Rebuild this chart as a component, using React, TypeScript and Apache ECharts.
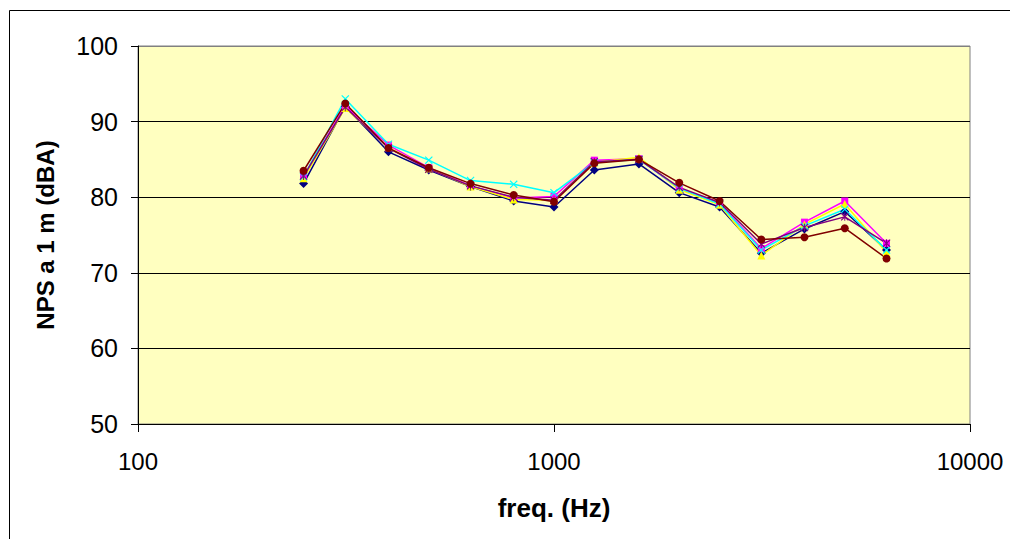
import React, { useEffect, useRef } from "react";
import * as echarts from "echarts";

const freqs = [250, 315, 400, 500, 630, 800, 1000, 1250, 1600, 2000, 2500, 3150, 4000, 5000, 6300];

const serieBlue = [81.8, 92.0, 86.0, 83.6, 81.4, 79.5, 78.7, 83.6, 84.4, 80.6, 78.7, 72.6, 75.8, 78.1, 73.0];
const serieMagenta = [82.8, 92.1, 86.9, 83.9, 81.5, 79.9, 80.1, 84.9, 85.1, 81.1, 79.2, 73.2, 76.7, 79.5, 73.9];
const serieYellow = [82.5, 91.8, 86.6, 83.8, 81.4, 79.7, 79.6, 84.6, 85.3, 81.0, 79.0, 72.3, 76.4, 79.1, 72.7];
const serieCyan = [82.7, 93.0, 87.0, 84.9, 82.2, 81.7, 80.6, 84.6, 85.0, 81.2, 79.1, 73.0, 76.2, 78.4, 73.0];
const seriePurple = [82.8, 91.9, 86.5, 83.7, 81.5, 80.0, 79.6, 84.7, 85.0, 81.3, 79.3, 73.8, 76.0, 77.4, 73.9];
const serieBrown = [83.5, 92.4, 86.5, 83.9, 81.8, 80.3, 79.4, 84.5, 85.0, 81.9, 79.5, 74.4, 74.7, 75.9, 71.9];

const yTicks = [50, 60, 70, 80, 90, 100];

const xSymbol = "path://M0,1 L1,0 L5,4 L9,0 L10,1 L6,5 L10,9 L9,10 L5,6 L1,10 L0,9 L4,5 Z";
const starSymbol =
  "path://M0,1 L1,0 L5,4 L9,0 L10,1 L6,5 L10,9 L9,10 L5,6 L1,10 L0,9 L4,5 Z M4.4,0 L5.6,0 L5.6,10 L4.4,10 Z";

const seriesDefs = [
  { name: "S1", data: serieBlue, color: "#000080", symbol: "diamond", size: 9 },
  { name: "S2", data: serieMagenta, color: "#FF00FF", symbol: "rect", size: 7 },
  { name: "S3", data: serieYellow, color: "#FFFF00", symbol: "triangle", size: 8 },
  { name: "S4", data: serieCyan, color: "#00FFFF", symbol: xSymbol, size: 8 },
  { name: "S5", data: seriePurple, color: "#800080", symbol: starSymbol, size: 8 },
  { name: "S6", data: serieBrown, color: "#800000", symbol: "circle", size: 8 },
];

const FONT = 'Arial, "Liberation Sans", sans-serif';

export default function App() {
  const ref = useRef<HTMLDivElement>(null);
  useEffect(() => {
    if (!ref.current) return;
    const chart = echarts.init(ref.current, null, { renderer: "svg" });
    chart.setOption({
      animation: false,
      backgroundColor: "#ffffff",
      grid: {
        left: 138,
        top: 46,
        width: 832,
        height: 378,
        show: true,
        backgroundColor: "#FFFFC0",
        borderColor: "#808080",
        borderWidth: 1,
      },
      graphic: [
        {
          type: "rect",
          shape: { x: 9.5, y: 10.5, width: 1100, height: 600 },
          style: { fill: "none", stroke: "#000", lineWidth: 1 },
          silent: true,
        },
      ],
      xAxis: {
        type: "log",
        logBase: 10,
        min: 100,
        max: 10000,
        name: "freq. (Hz)",
        nameLocation: "middle",
        nameGap: 71,
        nameTextStyle: { fontFamily: FONT, fontSize: 26, fontWeight: "bold", color: "#000" },
        axisLine: { show: true, lineStyle: { color: "#000", width: 1 } },
        axisTick: { show: true, length: 8, inside: false, lineStyle: { color: "#000" } },
        axisLabel: {
          fontFamily: FONT,
          fontSize: 24,
          color: "#000",
          margin: 25,
          formatter: (v: number) => String(Math.round(v)),
        },
        splitLine: { show: false },
        minorTick: { show: false },
      },
      yAxis: {
        type: "value",
        min: yTicks[0],
        max: yTicks[yTicks.length - 1],
        interval: 10,
        name: "NPS a 1 m (dBA)",
        nameLocation: "middle",
        nameGap: 81,
        nameTextStyle: { fontFamily: FONT, fontSize: 24, fontWeight: "bold", color: "#000" },
        axisLine: { show: true, lineStyle: { color: "#000", width: 1 } },
        axisTick: { show: true, length: 7, inside: false, lineStyle: { color: "#000" } },
        axisLabel: { fontFamily: FONT, fontSize: 25, color: "#000", margin: 20 },
        splitLine: {
          show: true,
          lineStyle: { color: ["#000", "#000", "#000", "#000", "#000", "#808080"], width: 1 },
        },
      },
      series: seriesDefs.map((s) => ({
        name: s.name,
        type: "line",
        data: freqs.map((f, i) => [f, s.data[i]]),
        symbol: s.symbol,
        symbolSize: s.size,
        showAllSymbol: true,
        lineStyle: { color: s.color, width: 1.5 },
        itemStyle: { color: s.color, borderWidth: 0 },
        emphasis: { disabled: true },
      })),
    });
    return () => chart.dispose();
  }, []);
  return (
    <div
      ref={ref}
      style={{ position: "absolute", left: 0, top: 0, width: 1010, height: 539 }}
    />
  );
}
